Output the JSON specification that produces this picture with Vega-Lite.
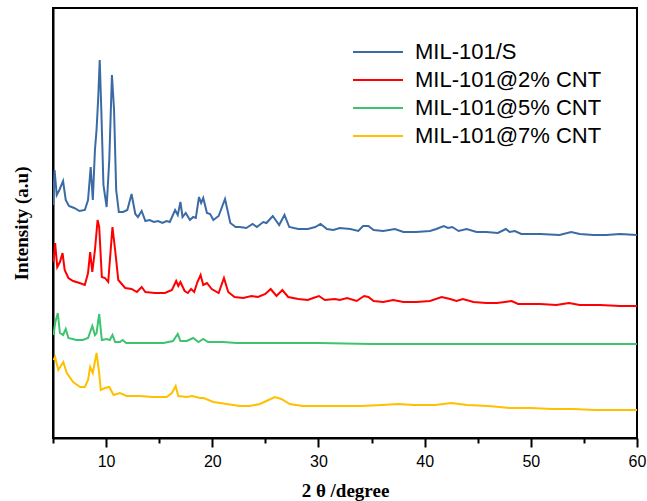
{
  "$schema": "https://vega.github.io/schema/vega-lite/v6.json",
  "width": 584,
  "height": 430,
  "autosize": {"type": "none"},
  "padding": {"left": 53, "top": 8, "right": 10, "bottom": 63},
  "background": "white",
  "config": {
    "view": {"stroke": "black", "strokeWidth": 2},
    "axis": {"grid": false}
  },
  "datasets": {
    "xrd": [
      {"s": "MIL-101/S", "x": 5.0, "y": 233}, {"s": "MIL-101/S", "x": 5.15, "y": 268}, {"s": "MIL-101/S", "x": 5.35, "y": 243}, {"s": "MIL-101/S", "x": 5.6, "y": 248}, {"s": "MIL-101/S", "x": 5.95, "y": 257}, {"s": "MIL-101/S", "x": 6.2, "y": 238}, {"s": "MIL-101/S", "x": 6.5, "y": 232}, {"s": "MIL-101/S", "x": 7.0, "y": 230}, {"s": "MIL-101/S", "x": 7.5, "y": 227}, {"s": "MIL-101/S", "x": 8.0, "y": 228}, {"s": "MIL-101/S", "x": 8.3, "y": 238}, {"s": "MIL-101/S", "x": 8.55, "y": 271}, {"s": "MIL-101/S", "x": 8.75, "y": 238}, {"s": "MIL-101/S", "x": 8.95, "y": 288}, {"s": "MIL-101/S", "x": 9.1, "y": 308}, {"s": "MIL-101/S", "x": 9.25, "y": 338}, {"s": "MIL-101/S", "x": 9.4, "y": 378}, {"s": "MIL-101/S", "x": 9.55, "y": 328}, {"s": "MIL-101/S", "x": 9.75, "y": 253}, {"s": "MIL-101/S", "x": 10.05, "y": 231}, {"s": "MIL-101/S", "x": 10.3, "y": 278}, {"s": "MIL-101/S", "x": 10.55, "y": 363}, {"s": "MIL-101/S", "x": 10.75, "y": 328}, {"s": "MIL-101/S", "x": 10.95, "y": 248}, {"s": "MIL-101/S", "x": 11.2, "y": 226}, {"s": "MIL-101/S", "x": 11.6, "y": 226}, {"s": "MIL-101/S", "x": 12.0, "y": 228}, {"s": "MIL-101/S", "x": 12.4, "y": 244}, {"s": "MIL-101/S", "x": 12.75, "y": 224}, {"s": "MIL-101/S", "x": 13.0, "y": 221}, {"s": "MIL-101/S", "x": 13.35, "y": 227}, {"s": "MIL-101/S", "x": 13.7, "y": 217}, {"s": "MIL-101/S", "x": 14.1, "y": 218}, {"s": "MIL-101/S", "x": 14.5, "y": 216}, {"s": "MIL-101/S", "x": 14.9, "y": 217}, {"s": "MIL-101/S", "x": 15.3, "y": 215}, {"s": "MIL-101/S", "x": 15.7, "y": 217}, {"s": "MIL-101/S", "x": 16.0, "y": 216}, {"s": "MIL-101/S", "x": 16.5, "y": 228}, {"s": "MIL-101/S", "x": 16.75, "y": 223}, {"s": "MIL-101/S", "x": 17.0, "y": 236}, {"s": "MIL-101/S", "x": 17.2, "y": 221}, {"s": "MIL-101/S", "x": 17.5, "y": 225}, {"s": "MIL-101/S", "x": 17.9, "y": 218}, {"s": "MIL-101/S", "x": 18.2, "y": 221}, {"s": "MIL-101/S", "x": 18.45, "y": 220}, {"s": "MIL-101/S", "x": 18.75, "y": 241}, {"s": "MIL-101/S", "x": 18.95, "y": 235}, {"s": "MIL-101/S", "x": 19.15, "y": 240}, {"s": "MIL-101/S", "x": 19.5, "y": 225}, {"s": "MIL-101/S", "x": 19.8, "y": 224}, {"s": "MIL-101/S", "x": 20.1, "y": 218}, {"s": "MIL-101/S", "x": 20.6, "y": 222}, {"s": "MIL-101/S", "x": 21.2, "y": 239}, {"s": "MIL-101/S", "x": 21.7, "y": 215}, {"s": "MIL-101/S", "x": 22.2, "y": 211}, {"s": "MIL-101/S", "x": 22.6, "y": 211}, {"s": "MIL-101/S", "x": 23.2, "y": 210}, {"s": "MIL-101/S", "x": 23.8, "y": 214}, {"s": "MIL-101/S", "x": 24.2, "y": 211}, {"s": "MIL-101/S", "x": 24.8, "y": 216}, {"s": "MIL-101/S", "x": 25.1, "y": 215}, {"s": "MIL-101/S", "x": 25.7, "y": 222}, {"s": "MIL-101/S", "x": 26.3, "y": 213}, {"s": "MIL-101/S", "x": 26.8, "y": 223}, {"s": "MIL-101/S", "x": 27.25, "y": 211}, {"s": "MIL-101/S", "x": 28.1, "y": 209}, {"s": "MIL-101/S", "x": 29.0, "y": 209}, {"s": "MIL-101/S", "x": 29.7, "y": 211}, {"s": "MIL-101/S", "x": 30.2, "y": 214}, {"s": "MIL-101/S", "x": 30.8, "y": 209}, {"s": "MIL-101/S", "x": 31.4, "y": 208}, {"s": "MIL-101/S", "x": 32.0, "y": 210}, {"s": "MIL-101/S", "x": 33.0, "y": 209}, {"s": "MIL-101/S", "x": 33.75, "y": 207}, {"s": "MIL-101/S", "x": 34.2, "y": 212}, {"s": "MIL-101/S", "x": 34.7, "y": 212}, {"s": "MIL-101/S", "x": 35.2, "y": 208}, {"s": "MIL-101/S", "x": 36.1, "y": 207}, {"s": "MIL-101/S", "x": 37.2, "y": 209}, {"s": "MIL-101/S", "x": 38.0, "y": 206}, {"s": "MIL-101/S", "x": 39.2, "y": 206}, {"s": "MIL-101/S", "x": 40.5, "y": 207}, {"s": "MIL-101/S", "x": 41.1, "y": 209}, {"s": "MIL-101/S", "x": 41.8, "y": 212}, {"s": "MIL-101/S", "x": 42.2, "y": 210}, {"s": "MIL-101/S", "x": 42.6, "y": 211}, {"s": "MIL-101/S", "x": 43.2, "y": 207}, {"s": "MIL-101/S", "x": 43.95, "y": 209}, {"s": "MIL-101/S", "x": 44.9, "y": 206}, {"s": "MIL-101/S", "x": 45.8, "y": 206}, {"s": "MIL-101/S", "x": 46.9, "y": 205}, {"s": "MIL-101/S", "x": 47.65, "y": 209}, {"s": "MIL-101/S", "x": 48.0, "y": 206}, {"s": "MIL-101/S", "x": 48.5, "y": 207}, {"s": "MIL-101/S", "x": 49.1, "y": 204}, {"s": "MIL-101/S", "x": 50.9, "y": 204}, {"s": "MIL-101/S", "x": 52.7, "y": 203}, {"s": "MIL-101/S", "x": 53.8, "y": 206}, {"s": "MIL-101/S", "x": 54.6, "y": 204}, {"s": "MIL-101/S", "x": 55.9, "y": 203}, {"s": "MIL-101/S", "x": 57.1, "y": 203}, {"s": "MIL-101/S", "x": 58.4, "y": 204}, {"s": "MIL-101/S", "x": 60.0, "y": 203},

      {"s": "MIL-101@2% CNT", "x": 5.05, "y": 176}, {"s": "MIL-101@2% CNT", "x": 5.2, "y": 195}, {"s": "MIL-101@2% CNT", "x": 5.4, "y": 171}, {"s": "MIL-101@2% CNT", "x": 5.65, "y": 176}, {"s": "MIL-101@2% CNT", "x": 5.9, "y": 185}, {"s": "MIL-101@2% CNT", "x": 6.1, "y": 168}, {"s": "MIL-101@2% CNT", "x": 6.45, "y": 160}, {"s": "MIL-101@2% CNT", "x": 6.9, "y": 157}, {"s": "MIL-101@2% CNT", "x": 7.5, "y": 155}, {"s": "MIL-101@2% CNT", "x": 8.0, "y": 153}, {"s": "MIL-101@2% CNT", "x": 8.3, "y": 165}, {"s": "MIL-101@2% CNT", "x": 8.5, "y": 186}, {"s": "MIL-101@2% CNT", "x": 8.7, "y": 166}, {"s": "MIL-101@2% CNT", "x": 8.95, "y": 188}, {"s": "MIL-101@2% CNT", "x": 9.2, "y": 218}, {"s": "MIL-101@2% CNT", "x": 9.35, "y": 211}, {"s": "MIL-101@2% CNT", "x": 9.6, "y": 161}, {"s": "MIL-101@2% CNT", "x": 9.9, "y": 160}, {"s": "MIL-101@2% CNT", "x": 10.2, "y": 156}, {"s": "MIL-101@2% CNT", "x": 10.6, "y": 211}, {"s": "MIL-101@2% CNT", "x": 10.85, "y": 188}, {"s": "MIL-101@2% CNT", "x": 11.15, "y": 158}, {"s": "MIL-101@2% CNT", "x": 11.8, "y": 150}, {"s": "MIL-101@2% CNT", "x": 12.4, "y": 149}, {"s": "MIL-101@2% CNT", "x": 12.9, "y": 146}, {"s": "MIL-101@2% CNT", "x": 13.35, "y": 151}, {"s": "MIL-101@2% CNT", "x": 13.7, "y": 146}, {"s": "MIL-101@2% CNT", "x": 14.6, "y": 145}, {"s": "MIL-101@2% CNT", "x": 15.55, "y": 145}, {"s": "MIL-101@2% CNT", "x": 16.2, "y": 148}, {"s": "MIL-101@2% CNT", "x": 16.6, "y": 157}, {"s": "MIL-101@2% CNT", "x": 16.8, "y": 152}, {"s": "MIL-101@2% CNT", "x": 17.0, "y": 156}, {"s": "MIL-101@2% CNT", "x": 17.4, "y": 147}, {"s": "MIL-101@2% CNT", "x": 17.7, "y": 145}, {"s": "MIL-101@2% CNT", "x": 18.0, "y": 149}, {"s": "MIL-101@2% CNT", "x": 18.3, "y": 146}, {"s": "MIL-101@2% CNT", "x": 18.6, "y": 156}, {"s": "MIL-101@2% CNT", "x": 18.9, "y": 163}, {"s": "MIL-101@2% CNT", "x": 19.15, "y": 153}, {"s": "MIL-101@2% CNT", "x": 19.5, "y": 155}, {"s": "MIL-101@2% CNT", "x": 19.95, "y": 149}, {"s": "MIL-101@2% CNT", "x": 20.6, "y": 145}, {"s": "MIL-101@2% CNT", "x": 21.1, "y": 160}, {"s": "MIL-101@2% CNT", "x": 21.5, "y": 146}, {"s": "MIL-101@2% CNT", "x": 22.1, "y": 141}, {"s": "MIL-101@2% CNT", "x": 22.9, "y": 140}, {"s": "MIL-101@2% CNT", "x": 23.7, "y": 142}, {"s": "MIL-101@2% CNT", "x": 24.3, "y": 141}, {"s": "MIL-101@2% CNT", "x": 25.0, "y": 144}, {"s": "MIL-101@2% CNT", "x": 25.5, "y": 149}, {"s": "MIL-101@2% CNT", "x": 26.05, "y": 142}, {"s": "MIL-101@2% CNT", "x": 26.6, "y": 148}, {"s": "MIL-101@2% CNT", "x": 27.15, "y": 141}, {"s": "MIL-101@2% CNT", "x": 28.1, "y": 139}, {"s": "MIL-101@2% CNT", "x": 29.0, "y": 138}, {"s": "MIL-101@2% CNT", "x": 29.5, "y": 140}, {"s": "MIL-101@2% CNT", "x": 30.05, "y": 142}, {"s": "MIL-101@2% CNT", "x": 30.6, "y": 138}, {"s": "MIL-101@2% CNT", "x": 31.55, "y": 139}, {"s": "MIL-101@2% CNT", "x": 32.0, "y": 138}, {"s": "MIL-101@2% CNT", "x": 32.7, "y": 140}, {"s": "MIL-101@2% CNT", "x": 33.6, "y": 137}, {"s": "MIL-101@2% CNT", "x": 34.3, "y": 142}, {"s": "MIL-101@2% CNT", "x": 34.7, "y": 141}, {"s": "MIL-101@2% CNT", "x": 35.2, "y": 137}, {"s": "MIL-101@2% CNT", "x": 36.1, "y": 136}, {"s": "MIL-101@2% CNT", "x": 37.05, "y": 138}, {"s": "MIL-101@2% CNT", "x": 38.0, "y": 136}, {"s": "MIL-101@2% CNT", "x": 39.25, "y": 136}, {"s": "MIL-101@2% CNT", "x": 40.5, "y": 137}, {"s": "MIL-101@2% CNT", "x": 41.6, "y": 141}, {"s": "MIL-101@2% CNT", "x": 42.4, "y": 139}, {"s": "MIL-101@2% CNT", "x": 43.0, "y": 137}, {"s": "MIL-101@2% CNT", "x": 43.6, "y": 139}, {"s": "MIL-101@2% CNT", "x": 44.6, "y": 136}, {"s": "MIL-101@2% CNT", "x": 45.8, "y": 135}, {"s": "MIL-101@2% CNT", "x": 46.8, "y": 135}, {"s": "MIL-101@2% CNT", "x": 47.55, "y": 136}, {"s": "MIL-101@2% CNT", "x": 48.2, "y": 137}, {"s": "MIL-101@2% CNT", "x": 48.8, "y": 134}, {"s": "MIL-101@2% CNT", "x": 50.9, "y": 134}, {"s": "MIL-101@2% CNT", "x": 52.4, "y": 133}, {"s": "MIL-101@2% CNT", "x": 53.6, "y": 135}, {"s": "MIL-101@2% CNT", "x": 54.6, "y": 133}, {"s": "MIL-101@2% CNT", "x": 56.5, "y": 133}, {"s": "MIL-101@2% CNT", "x": 58.4, "y": 132}, {"s": "MIL-101@2% CNT", "x": 60.0, "y": 132},

      {"s": "MIL-101@5% CNT", "x": 5.05, "y": 103}, {"s": "MIL-101@5% CNT", "x": 5.2, "y": 115}, {"s": "MIL-101@5% CNT", "x": 5.45, "y": 125}, {"s": "MIL-101@5% CNT", "x": 5.65, "y": 105}, {"s": "MIL-101@5% CNT", "x": 5.95, "y": 103}, {"s": "MIL-101@5% CNT", "x": 6.2, "y": 109}, {"s": "MIL-101@5% CNT", "x": 6.45, "y": 100}, {"s": "MIL-101@5% CNT", "x": 7.2, "y": 98}, {"s": "MIL-101@5% CNT", "x": 7.8, "y": 98}, {"s": "MIL-101@5% CNT", "x": 8.3, "y": 100}, {"s": "MIL-101@5% CNT", "x": 8.7, "y": 112}, {"s": "MIL-101@5% CNT", "x": 8.95, "y": 103}, {"s": "MIL-101@5% CNT", "x": 9.1, "y": 105}, {"s": "MIL-101@5% CNT", "x": 9.35, "y": 124}, {"s": "MIL-101@5% CNT", "x": 9.6, "y": 98}, {"s": "MIL-101@5% CNT", "x": 10.05, "y": 99}, {"s": "MIL-101@5% CNT", "x": 10.35, "y": 98}, {"s": "MIL-101@5% CNT", "x": 10.6, "y": 103}, {"s": "MIL-101@5% CNT", "x": 10.85, "y": 96}, {"s": "MIL-101@5% CNT", "x": 11.3, "y": 96}, {"s": "MIL-101@5% CNT", "x": 11.55, "y": 98}, {"s": "MIL-101@5% CNT", "x": 11.9, "y": 95}, {"s": "MIL-101@5% CNT", "x": 13.5, "y": 95}, {"s": "MIL-101@5% CNT", "x": 15.4, "y": 95}, {"s": "MIL-101@5% CNT", "x": 16.3, "y": 97}, {"s": "MIL-101@5% CNT", "x": 16.75, "y": 104}, {"s": "MIL-101@5% CNT", "x": 17.0, "y": 97}, {"s": "MIL-101@5% CNT", "x": 17.6, "y": 97}, {"s": "MIL-101@5% CNT", "x": 18.2, "y": 100}, {"s": "MIL-101@5% CNT", "x": 18.7, "y": 96}, {"s": "MIL-101@5% CNT", "x": 19.15, "y": 99}, {"s": "MIL-101@5% CNT", "x": 19.6, "y": 96}, {"s": "MIL-101@5% CNT", "x": 21.0, "y": 96}, {"s": "MIL-101@5% CNT", "x": 22.3, "y": 95}, {"s": "MIL-101@5% CNT", "x": 23.55, "y": 95}, {"s": "MIL-101@5% CNT", "x": 26.0, "y": 95}, {"s": "MIL-101@5% CNT", "x": 30.0, "y": 95}, {"s": "MIL-101@5% CNT", "x": 35.0, "y": 94}, {"s": "MIL-101@5% CNT", "x": 40.0, "y": 94}, {"s": "MIL-101@5% CNT", "x": 45.0, "y": 94}, {"s": "MIL-101@5% CNT", "x": 50.0, "y": 94}, {"s": "MIL-101@5% CNT", "x": 55.0, "y": 94}, {"s": "MIL-101@5% CNT", "x": 60.0, "y": 94},

      {"s": "MIL-101@7% CNT", "x": 5.05, "y": 78}, {"s": "MIL-101@7% CNT", "x": 5.2, "y": 81}, {"s": "MIL-101@7% CNT", "x": 5.5, "y": 68}, {"s": "MIL-101@7% CNT", "x": 5.97, "y": 76}, {"s": "MIL-101@7% CNT", "x": 6.3, "y": 65}, {"s": "MIL-101@7% CNT", "x": 6.9, "y": 56}, {"s": "MIL-101@7% CNT", "x": 7.55, "y": 51}, {"s": "MIL-101@7% CNT", "x": 8.0, "y": 51}, {"s": "MIL-101@7% CNT", "x": 8.3, "y": 58}, {"s": "MIL-101@7% CNT", "x": 8.5, "y": 71}, {"s": "MIL-101@7% CNT", "x": 8.75, "y": 65}, {"s": "MIL-101@7% CNT", "x": 9.1, "y": 85}, {"s": "MIL-101@7% CNT", "x": 9.35, "y": 65}, {"s": "MIL-101@7% CNT", "x": 9.5, "y": 48}, {"s": "MIL-101@7% CNT", "x": 9.9, "y": 50}, {"s": "MIL-101@7% CNT", "x": 10.3, "y": 51}, {"s": "MIL-101@7% CNT", "x": 10.7, "y": 43}, {"s": "MIL-101@7% CNT", "x": 11.3, "y": 45}, {"s": "MIL-101@7% CNT", "x": 11.95, "y": 42}, {"s": "MIL-101@7% CNT", "x": 13.2, "y": 42}, {"s": "MIL-101@7% CNT", "x": 14.4, "y": 41}, {"s": "MIL-101@7% CNT", "x": 15.7, "y": 41}, {"s": "MIL-101@7% CNT", "x": 16.2, "y": 45}, {"s": "MIL-101@7% CNT", "x": 16.55, "y": 52}, {"s": "MIL-101@7% CNT", "x": 16.8, "y": 42}, {"s": "MIL-101@7% CNT", "x": 17.6, "y": 41}, {"s": "MIL-101@7% CNT", "x": 18.1, "y": 42}, {"s": "MIL-101@7% CNT", "x": 18.85, "y": 40}, {"s": "MIL-101@7% CNT", "x": 19.2, "y": 40}, {"s": "MIL-101@7% CNT", "x": 20.1, "y": 36}, {"s": "MIL-101@7% CNT", "x": 21.35, "y": 34}, {"s": "MIL-101@7% CNT", "x": 22.6, "y": 32}, {"s": "MIL-101@7% CNT", "x": 23.5, "y": 32}, {"s": "MIL-101@7% CNT", "x": 24.5, "y": 34}, {"s": "MIL-101@7% CNT", "x": 25.3, "y": 38}, {"s": "MIL-101@7% CNT", "x": 25.9, "y": 41}, {"s": "MIL-101@7% CNT", "x": 26.5, "y": 39}, {"s": "MIL-101@7% CNT", "x": 27.3, "y": 34}, {"s": "MIL-101@7% CNT", "x": 28.5, "y": 32}, {"s": "MIL-101@7% CNT", "x": 30.0, "y": 32}, {"s": "MIL-101@7% CNT", "x": 32.0, "y": 32}, {"s": "MIL-101@7% CNT", "x": 34.0, "y": 32}, {"s": "MIL-101@7% CNT", "x": 36.0, "y": 33}, {"s": "MIL-101@7% CNT", "x": 37.5, "y": 34}, {"s": "MIL-101@7% CNT", "x": 39.0, "y": 33}, {"s": "MIL-101@7% CNT", "x": 41.0, "y": 33}, {"s": "MIL-101@7% CNT", "x": 42.5, "y": 35}, {"s": "MIL-101@7% CNT", "x": 44.0, "y": 33}, {"s": "MIL-101@7% CNT", "x": 46.0, "y": 32}, {"s": "MIL-101@7% CNT", "x": 48.0, "y": 30}, {"s": "MIL-101@7% CNT", "x": 50.0, "y": 30}, {"s": "MIL-101@7% CNT", "x": 52.0, "y": 29}, {"s": "MIL-101@7% CNT", "x": 54.0, "y": 29}, {"s": "MIL-101@7% CNT", "x": 56.0, "y": 28}, {"s": "MIL-101@7% CNT", "x": 58.0, "y": 28}, {"s": "MIL-101@7% CNT", "x": 60.0, "y": 28}
    ]
  },
  "data": {"name": "xrd"},
  "mark": {"type": "line", "strokeWidth": 2, "clip": true},
  "encoding": {
    "x": {
      "field": "x",
      "type": "quantitative",
      "scale": {"domain": [5, 60], "nice": false, "zero": false},
      "axis": {
        "title": "2 θ /degree",
        "titleFont": "Liberation Serif",
        "titleFontSize": 19,
        "titleFontWeight": "bold",
        "titleColor": "black",
        "titlePadding": 12,
        "values": [5, 10, 15, 20, 25, 30, 35, 40, 45, 50, 55, 60],
        "labelExpr": "datum.value % 10 === 0 ? datum.label : ''",
        "labelFont": "Liberation Sans",
        "labelFontSize": 16,
        "labelColor": "black",
        "labelPadding": 6,
        "labelFlush": false,
        "domainColor": "black",
        "domainWidth": 2,
        "ticks": true,
        "tickColor": "black",
        "tickWidth": 2,
        "tickSize": {"condition": {"test": "datum.value % 10 === 0", "value": 9}, "value": 5}
      }
    },
    "y": {
      "field": "y",
      "type": "quantitative",
      "scale": {"domain": [0, 430], "nice": false},
      "axis": {
        "title": "Intensity (a.u)",
        "titleFont": "Liberation Serif",
        "titleFontSize": 19,
        "titleFontWeight": "bold",
        "titleColor": "black",
        "titlePadding": 22,
        "labels": false,
        "ticks": false,
        "domainColor": "black",
        "domainWidth": 2
      }
    },
    "color": {
      "field": "s",
      "type": "nominal",
      "scale": {
        "domain": ["MIL-101/S", "MIL-101@2% CNT", "MIL-101@5% CNT", "MIL-101@7% CNT"],
        "range": ["#3B6BA5", "#FF0000", "#3CC46F", "#FFC000"]
      },
      "legend": {
        "title": null,
        "orient": "none",
        "legendX": 314,
        "legendY": 33,
        "padding": 0,
        "symbolType": "M-2.5,0H2.5",
        "symbolSize": 400,
        "symbolStrokeWidth": 2,
        "labelFont": "Liberation Sans",
        "labelFontSize": 22,
        "labelColor": "black",
        "labelLimit": 0,
        "labelOffset": 26,
        "rowPadding": 6
      }
    }
  }
}
